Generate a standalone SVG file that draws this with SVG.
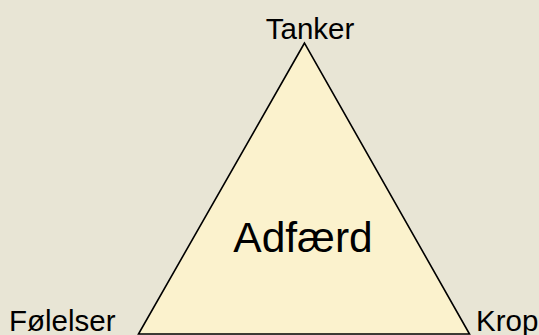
<svg xmlns="http://www.w3.org/2000/svg" width="539" height="335" viewBox="0 0 539 335">
  <style>
    .lbl { font-family: "Liberation Sans", Arial, sans-serif; fill: #000; }
    .corner { font-size: 29.5px; }
  </style>
  <rect width="539" height="335" fill="#E8E5D5"/>
  <g id="triangle">
    <polygon points="304.5,43 138.5,334 469.5,334" fill="#FBF2CD" stroke="#000" stroke-width="1.6" stroke-linejoin="miter"/>
    <text class="lbl" x="303" y="252" font-size="42.5" text-anchor="middle">Adfærd</text>
  </g>
  <g id="tanker"><text class="lbl corner" x="310" y="39" text-anchor="middle">Tanker</text></g>
  <g id="folelser"><text class="lbl corner" x="9" y="331">Følelser</text></g>
  <g id="krop"><text class="lbl corner" x="476" y="331">Krop</text></g>
</svg>
